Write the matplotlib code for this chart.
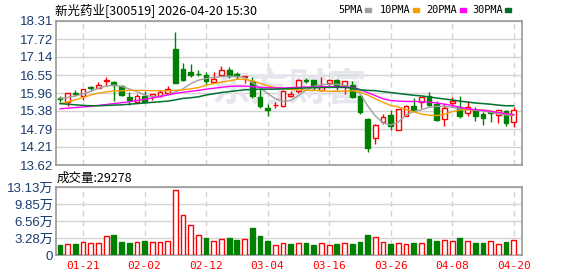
import numpy as np
import matplotlib
matplotlib.use("Agg")
import matplotlib.pyplot as plt
from matplotlib.patches import Rectangle

plt.rcParams['font.family'] = ['Noto Sans CJK SC', 'DejaVu Sans']

title = "新光药业[300519] 2026-04-20 15:30"
vol_title = "成交量:29278"
tick_labels = ["01-21", "02-02", "02-12", "03-04", "03-16", "03-26", "04-08", "04-20"]
ma_names = ["5PMA", "10PMA", "20PMA", "30PMA"]

# daily OHLC
opens = [15.80, 15.66, 15.98, 15.88, 16.15, 16.14, 16.37, 16.33, 16.19, 15.82,
         15.68, 15.86, 15.86, 15.88, 15.95, 17.40, 16.74, 16.66, 16.60, 16.56,
         16.33, 16.55, 16.72, 16.60, 16.47, 16.37, 15.83, 15.49, 15.56, 15.53,
         15.86, 16.02, 16.39, 16.39, 16.05, 16.29, 16.40, 16.18, 16.22, 15.86,
         15.12, 14.49, 15.03, 15.26, 14.75, 15.20, 15.55, 15.66, 15.86, 15.62,
         15.12, 15.64, 15.51, 15.31, 15.42, 15.29, 15.33, 15.25, 15.38, 15.03]
highs = [15.88, 15.98, 16.07, 16.10, 16.20, 16.31, 16.48, 16.34, 16.22, 15.99,
         15.94, 16.04, 15.94, 16.05, 16.20, 17.94, 16.94, 16.91, 16.73, 16.64,
         16.66, 16.83, 16.82, 16.65, 16.53, 16.49, 16.09, 15.62, 15.68, 16.05,
         16.02, 16.42, 16.44, 16.39, 16.49, 16.42, 16.42, 16.37, 16.35, 15.88,
         15.14, 14.94, 15.27, 15.40, 15.46, 15.57, 15.81, 15.85, 15.99, 15.71,
         15.64, 15.83, 15.88, 15.69, 15.51, 15.33, 15.38, 15.42, 15.42, 15.50]
lows = [15.66, 15.55, 15.88, 15.75, 16.02, 16.12, 16.20, 15.71, 15.86, 15.56,
        15.66, 15.66, 15.74, 15.83, 15.94, 16.29, 16.37, 16.48, 16.51, 16.21,
        16.33, 16.51, 16.46, 16.43, 16.29, 15.80, 15.49, 15.20, 15.49, 15.52,
        15.83, 15.98, 16.29, 16.05, 16.03, 16.12, 16.07, 15.94, 15.79, 15.29,
        14.03, 14.31, 14.94, 14.75, 14.75, 15.20, 15.40, 15.47, 15.55, 15.04,
        14.88, 15.51, 15.16, 15.23, 15.04, 14.92, 15.01, 14.99, 14.90, 14.86]
closes = [15.77, 15.96, 15.93, 16.09, 16.12, 16.21, 16.39, 16.23, 15.90, 15.75,
          15.86, 15.66, 15.92, 15.99, 16.09, 16.29, 16.40, 16.54, 16.57, 16.37,
          16.42, 16.72, 16.53, 16.51, 16.53, 15.86, 15.53, 15.40, 15.57, 16.03,
          15.94, 16.40, 16.37, 16.18, 16.20, 16.39, 16.18, 16.35, 15.83, 15.34,
          14.17, 14.92, 15.18, 14.90, 15.44, 15.55, 15.40, 15.83, 15.59, 15.10,
          15.47, 15.70, 15.23, 15.51, 15.20, 15.14, 15.30, 15.40, 14.99, 15.42]

ma5 = [15.79, 15.82, 15.87, 15.94, 16.02, 16.12, 16.19, 16.22, 16.18, 16.10,
       16.01, 15.90, 15.84, 15.86, 15.91, 16.00, 16.10, 16.27, 16.38, 16.44,
       16.47, 16.50, 16.51, 16.50, 16.47, 16.30, 16.15, 15.95, 15.78, 15.69,
       15.72, 15.88, 16.05, 16.18, 16.24, 16.25, 16.25, 16.22, 16.12, 15.95,
       15.55, 15.22, 15.00, 14.92, 15.02, 15.25, 15.36, 15.42, 15.50, 15.53,
       15.53, 15.50, 15.45, 15.42, 15.40, 15.38, 15.34, 15.28, 15.25, 15.23]
ma10 = [15.62, 15.67, 15.74, 15.82, 15.90, 15.96, 16.00, 16.03, 16.04, 16.05,
        16.05, 16.05, 16.04, 16.04, 16.04, 16.05, 16.07, 16.10, 16.14, 16.22,
        16.27, 16.32, 16.36, 16.41, 16.41, 16.36, 16.28, 16.20, 16.14, 16.11,
        16.08, 16.07, 16.06, 16.05, 16.04, 16.02, 16.02, 16.03, 16.04, 16.00,
        15.90, 15.78, 15.66, 15.56, 15.51, 15.43, 15.35, 15.28, 15.24, 15.23,
        15.27, 15.36, 15.41, 15.42, 15.42, 15.41, 15.38, 15.33, 15.29, 15.26]
ma20 = [15.45, 15.47, 15.49, 15.51, 15.53, 15.56, 15.59, 15.62, 15.65, 15.68,
        15.72, 15.76, 15.80, 15.85, 15.90, 15.95, 15.99, 16.02, 16.05, 16.09,
        16.12, 16.15, 16.18, 16.19, 16.19, 16.17, 16.15, 16.14, 16.13, 16.13,
        16.14, 16.15, 16.16, 16.16, 16.17, 16.17, 16.17, 16.17, 16.14, 16.08,
        15.98, 15.88, 15.78, 15.72, 15.70, 15.69, 15.69, 15.68, 15.67, 15.64,
        15.60, 15.56, 15.50, 15.45, 15.42, 15.40, 15.37, 15.33, 15.29, 15.26]
ma30 = [15.62, 15.60, 15.58, 15.56, 15.55, 15.55, 15.56, 15.57, 15.58, 15.60,
        15.62, 15.64, 15.66, 15.68, 15.70, 15.74, 15.79, 15.81, 15.84, 15.90,
        15.94, 15.98, 16.01, 16.04, 16.07, 16.08, 16.09, 16.09, 16.09, 16.10,
        16.11, 16.12, 16.13, 16.14, 16.14, 16.15, 16.15, 16.15, 16.12, 16.07,
        16.05, 16.04, 16.01, 15.98, 15.95, 15.92, 15.89, 15.87, 15.84, 15.80,
        15.77, 15.74, 15.70, 15.67, 15.64, 15.62, 15.60, 15.57, 15.55, 15.55]

# volume in 万 (10k)
volume = [1.95, 2.15, 2.15, 2.47, 2.28, 2.34, 3.70, 3.90, 2.54, 2.34,
          2.54, 2.73, 2.54, 2.54, 2.73, 12.48, 7.80, 5.85, 3.84, 3.30,
          2.73, 3.10, 3.30, 2.90, 3.10, 5.27, 3.70, 2.73, 1.95, 2.34,
          2.15, 2.34, 2.34, 1.95, 2.34, 1.95, 2.15, 2.34, 2.15, 2.54,
          3.90, 3.50, 2.54, 2.15, 2.34, 2.15, 2.34, 2.34, 3.10, 2.73,
          2.90, 2.73, 3.30, 2.73, 2.34, 2.34, 2.73, 2.15, 2.54, 2.93]
# volume bar colour: R = close above previous close
vol_dir = "GRGRRRRGGGRGRRRRRRRGRRGGRGGGRRGRGGRRGRGGGRRGRRGRGGRRGRGGRRGR"

price_ticks = [13.62, 14.21, 14.79, 15.38, 15.96, 16.55, 17.14, 17.72, 18.31]
vol_ticks = [0, 3.28, 6.56, 9.85, 13.13]

RED = "#ff0000"
GREEN = "#008000"
AXC = "#999999"
GRIDC = "#d3d3d3"
LABC = "#1a3c6e"
MA_COLORS = ["#a0a0a0", "#f5a000", "#ff00ff", "#007030"]

W, H = 578, 276
fig = plt.figure(figsize=(W / 100, H / 100), dpi=100)

def frac(l, t, r, b):
    return [l / W, 1 - b / H, (r - l) / W, (b - t) / H]

ax = fig.add_axes(frac(56, 21, 522, 165))
axv = fig.add_axes(frac(56, 187, 522, 255))

n = len(closes)
x = np.arange(n)
bw = 0.62
tick_pos = list(range(3, n, 8))

# candles
for i in x:
    o, h, l, c = opens[i], highs[i], lows[i], closes[i]
    up = c >= o
    col = RED if up else GREEN
    ax.vlines(i, l, h, color=col, lw=1, zorder=3)
    body = max(abs(c - o), 0.012)
    ax.bar(i, body, bottom=min(o, c), width=bw,
           facecolor="white" if up else GREEN, edgecolor=col, lw=1, zorder=4)

for vals, col in zip([ma5, ma10, ma20, ma30], MA_COLORS):
    ax.plot(x, vals, color=col, lw=1.1 if col == MA_COLORS[3] else 1, zorder=5)

ax.set_ylim(price_ticks[0], price_ticks[-1])
ax.set_yticks(price_ticks)
ax.set_yticklabels([f"{v:.2f}" for v in price_ticks])

# volume
for i in x:
    up = vol_dir[i] == "R"
    axv.bar(i, volume[i], width=bw, facecolor="white" if up else GREEN,
            edgecolor=RED if up else GREEN, lw=1, zorder=3)
axv.set_ylim(0, vol_ticks[-1])
axv.set_yticks(vol_ticks)
axv.set_yticklabels(["0"] + [f"{v:.2f}万" for v in vol_ticks[1:]])

for a in (ax, axv):
    a.set_xlim(-0.52, n + 0.08)
    a.set_xticks(tick_pos)
    a.grid(axis="y", color=GRIDC, lw=1, zorder=0)
    a.grid(axis="x", color=GRIDC, lw=1, ls=(0, (4, 3)), zorder=0)
    a.set_axisbelow(True)
    for s in a.spines.values():
        s.set_color(AXC)
        s.set_linewidth(1.2)
    a.tick_params(axis="both", length=0, pad=2)
    for t in a.get_yticklabels():
        t.set_color(LABC)
        t.set_fontfamily(["Liberation Sans", "Noto Sans CJK SC"])
        t.set_fontsize(9.5)

ax.set_xticklabels([])
axv.set_xticklabels(tick_labels, color=RED, fontsize=8, family="DejaVu Sans Mono")
axv.tick_params(axis="x", pad=4)

# watermark
ax.text(0.5, 0.52, "东方财富", transform=ax.transAxes, fontsize=28, color="#e6e6ee",
        ha="center", va="center", style="italic", fontweight="bold", zorder=1)

fig.text(55 / W, 1 - 10 / H, title, fontsize=9, va="center", ha="left")
fig.text(57 / W, 1 - 178 / H, vol_title, fontsize=9, va="center", ha="left")

# legend: text then small colour square
legend_x = [338, 380, 426, 472]
square_x = [365, 413, 460, 505]
for name, col, lx, sx in zip(ma_names, MA_COLORS, legend_x, square_x):
    fig.text(lx / W, 1 - 10 / H, name, fontsize=7.4, va="center", ha="left",
             family="DejaVu Sans Mono")
    fig.patches.append(Rectangle((sx / W, 1 - 12 / H), 6 / W, 4 / H,
                                 transform=fig.transFigure, color=col))

fig.savefig("out.png", dpi=100)
